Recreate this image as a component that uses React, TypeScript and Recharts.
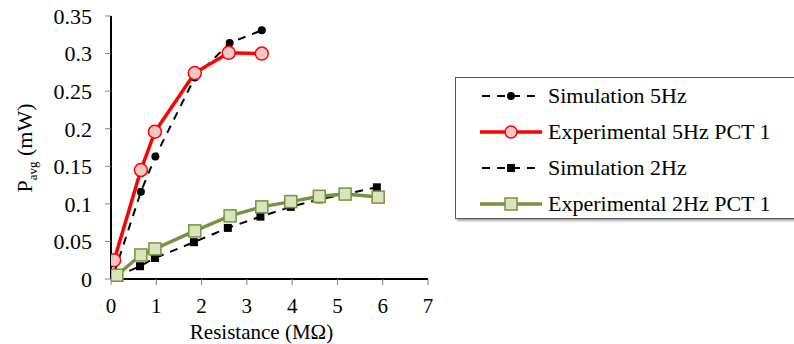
import React from 'react';
import { LineChart, Line, XAxis, YAxis } from 'recharts';

// Resistance (MΩ) / Pavg (mW)
const sim5Hz = [
    { x: 0.07, y: 0.008 },
    { x: 0.66, y: 0.116 },
    { x: 0.98, y: 0.163 },
    { x: 1.85, y: 0.268 },
    { x: 2.62, y: 0.314 },
    { x: 3.33, y: 0.331 },
];
const exp5Hz = [
    { x: 0.07, y: 0.025 },
    { x: 0.66, y: 0.145 },
    { x: 0.97, y: 0.196 },
    { x: 1.85, y: 0.274 },
    { x: 2.6, y: 0.301 },
    { x: 3.33, y: 0.3 },
];
const sim2Hz = [
    { x: 0.1, y: 0.003 },
    { x: 0.64, y: 0.017 },
    { x: 0.97, y: 0.028 },
    { x: 1.83, y: 0.049 },
    { x: 2.58, y: 0.068 },
    { x: 3.3, y: 0.083 },
    { x: 3.97, y: 0.096 },
    { x: 4.6, y: 0.106 },
    { x: 5.17, y: 0.113 },
    { x: 5.87, y: 0.122 },
];
const exp2Hz = [
    { x: 0.13, y: 0.005 },
    { x: 0.66, y: 0.032 },
    { x: 0.97, y: 0.04 },
    { x: 1.85, y: 0.064 },
    { x: 2.63, y: 0.084 },
    { x: 3.33, y: 0.096 },
    { x: 3.97, y: 0.103 },
    { x: 4.6, y: 0.11 },
    { x: 5.17, y: 0.113 },
    { x: 5.9, y: 0.109 },
];
const xTicks = [0, 1, 2, 3, 4, 5, 6, 7];
const yTicks = [0, 0.05, 0.1, 0.15, 0.2, 0.25, 0.3, 0.35];

const FONT = '"Liberation Serif", "Times New Roman", serif';
const FS = 22;
const RED = '#ff0000';
const RED_FILL = '#f5c6c6';
const GREEN = '#77933c';
const GREEN_FILL = '#d7e4bd';

const legendItems = [
    { name: 'Simulation 5Hz', kind: 'simCircle' },
    { name: 'Experimental 5Hz PCT 1', kind: 'red' },
    { name: 'Simulation 2Hz', kind: 'simSquare' },
    { name: 'Experimental 2Hz PCT 1', kind: 'green' },
];

const BlackSquare = (props: any) => {
    const { cx, cy } = props;
    if (cx == null || cy == null) return null;
    return <rect x={cx - 4} y={cy - 4} width={8} height={8} fill="#000" />;
};

const GreenSquare = (props: any) => {
    const { cx, cy } = props;
    if (cx == null || cy == null) return null;
    return (
        <rect x={cx - 6} y={cy - 6} width={12} height={12} fill={GREEN_FILL} stroke={GREEN} strokeWidth={1.5} />
    );
};

const YLabel = () => (
    <text
        transform="translate(32,148) rotate(-90)"
        textAnchor="middle"
        fontFamily={FONT}
        fontSize={FS}
        fill="#000"
    >
        P<tspan fontSize={13} dy={5}>avg</tspan>
        <tspan dy={-5}> (mW)</tspan>
    </text>
);

const LegendSample = ({ kind }: { kind: string }) => (
    <svg width={62} height={20} style={{ display: 'block' }}>
        {kind === 'simCircle' || kind === 'simSquare' ? (
            <>
                <line x1={2} y1={10} x2={60} y2={10} stroke="#000" strokeWidth={2} strokeDasharray="8 7" />
                {kind === 'simCircle' ? (
                    <circle cx={31} cy={10} r={4} fill="#000" />
                ) : (
                    <rect x={27} y={6} width={8} height={8} fill="#000" />
                )}
            </>
        ) : kind === 'red' ? (
            <>
                <line x1={0} y1={10} x2={62} y2={10} stroke={RED} strokeWidth={3.5} />
                <circle cx={31} cy={10} r={6} fill={RED_FILL} stroke={RED} strokeWidth={1.5} />
            </>
        ) : (
            <>
                <line x1={0} y1={10} x2={62} y2={10} stroke={GREEN} strokeWidth={3.5} />
                <rect x={25} y={4} width={12} height={12} fill={GREEN_FILL} stroke={GREEN} strokeWidth={1.5} />
            </>
        )}
    </svg>
);

export default function App() {
    return (
        <div
            style={{
                position: 'fixed',
                left: 0,
                top: 0,
                width: 794,
                height: 344,
                overflow: 'hidden',
                background: '#fff',
                fontFamily: FONT,
            }}
        >
            <LineChart width={440} height={344} margin={{ top: 16, right: 12, bottom: 5, left: 0 }}>
                <XAxis
                    type="number"
                    dataKey="x"
                    domain={[0, 7]}
                    ticks={xTicks}
                    allowDataOverflow
                    height={60}
                    axisLine={{ stroke: '#000', strokeWidth: 2 }}
                    tickLine={{ stroke: '#808080' }}
                    tickSize={6}
                    tickMargin={13}
                    tick={{ fill: '#000', fontSize: 21, fontFamily: FONT }}
                    label={{
                        value: 'Resistance (MΩ)',
                        position: 'insideBottom',
                        offset: 0,
                        dx: -8,
                        fill: '#000',
                        fontSize: 21,
                        fontFamily: FONT,
                    }}
                />
                <XAxis
                    xAxisId="top"
                    orientation="top"
                    type="number"
                    dataKey="x"
                    domain={[0, 7]}
                    height={0}
                    tick={false}
                    tickLine={false}
                    axisLine={{ stroke: '#222', strokeWidth: 2 }}
                />
                <YAxis
                    type="number"
                    domain={[0, 0.35]}
                    ticks={yTicks}
                    width={111}
                    axisLine={{ stroke: '#000', strokeWidth: 2 }}
                    tickLine={{ stroke: '#808080' }}
                    tickSize={6}
                    tickMargin={13}
                    tick={{ fill: '#000', fontSize: FS, fontFamily: FONT }}
                    label={<YLabel />}
                />
                <YAxis
                    yAxisId="right"
                    orientation="right"
                    type="number"
                    domain={[0, 0.35]}
                    width={0}
                    tick={false}
                    tickLine={false}
                    axisLine={{ stroke: '#222', strokeWidth: 2 }}
                />
                <Line
                    data={sim5Hz}
                    dataKey="y"
                    name="Simulation 5Hz"
                    stroke="#000"
                    strokeWidth={2}
                    strokeDasharray="8 7"
                    dot={{ r: 4, fill: '#000', stroke: '#000', strokeWidth: 0 }}
                    isAnimationActive={false}
                />
                <Line
                    data={exp5Hz}
                    dataKey="y"
                    name="Experimental 5Hz PCT 1"
                    stroke={RED}
                    strokeWidth={3.5}
                    dot={{ r: 6.5, fill: RED_FILL, stroke: RED, strokeWidth: 1.5 }}
                    isAnimationActive={false}
                />
                <Line
                    data={sim2Hz}
                    dataKey="y"
                    name="Simulation 2Hz"
                    stroke="#000"
                    strokeWidth={2}
                    strokeDasharray="8 7"
                    dot={<BlackSquare />}
                    isAnimationActive={false}
                />
                <Line
                    data={exp2Hz}
                    dataKey="y"
                    name="Experimental 2Hz PCT 1"
                    stroke={GREEN}
                    strokeWidth={3.5}
                    dot={<GreenSquare />}
                    isAnimationActive={false}
                />
            </LineChart>

            <div
                style={{
                    position: 'absolute',
                    left: 455,
                    top: 77,
                    width: 380,
                    height: 142,
                    border: '1px solid #555',
                    boxShadow: '2px 2px 2px #aaa',
                    boxSizing: 'border-box',
                    paddingTop: 0,
                }}
            >
                {legendItems.map((item) => (
                    <div
                        key={item.name}
                        style={{ display: 'flex', alignItems: 'center', height: 36, paddingLeft: 24 }}
                    >
                        <LegendSample kind={item.kind} />
                        <span style={{ fontSize: FS, marginLeft: 6, color: '#000', lineHeight: '36px' }}>
                            {item.name}
                        </span>
                    </div>
                ))}
            </div>
        </div>
    );
}
